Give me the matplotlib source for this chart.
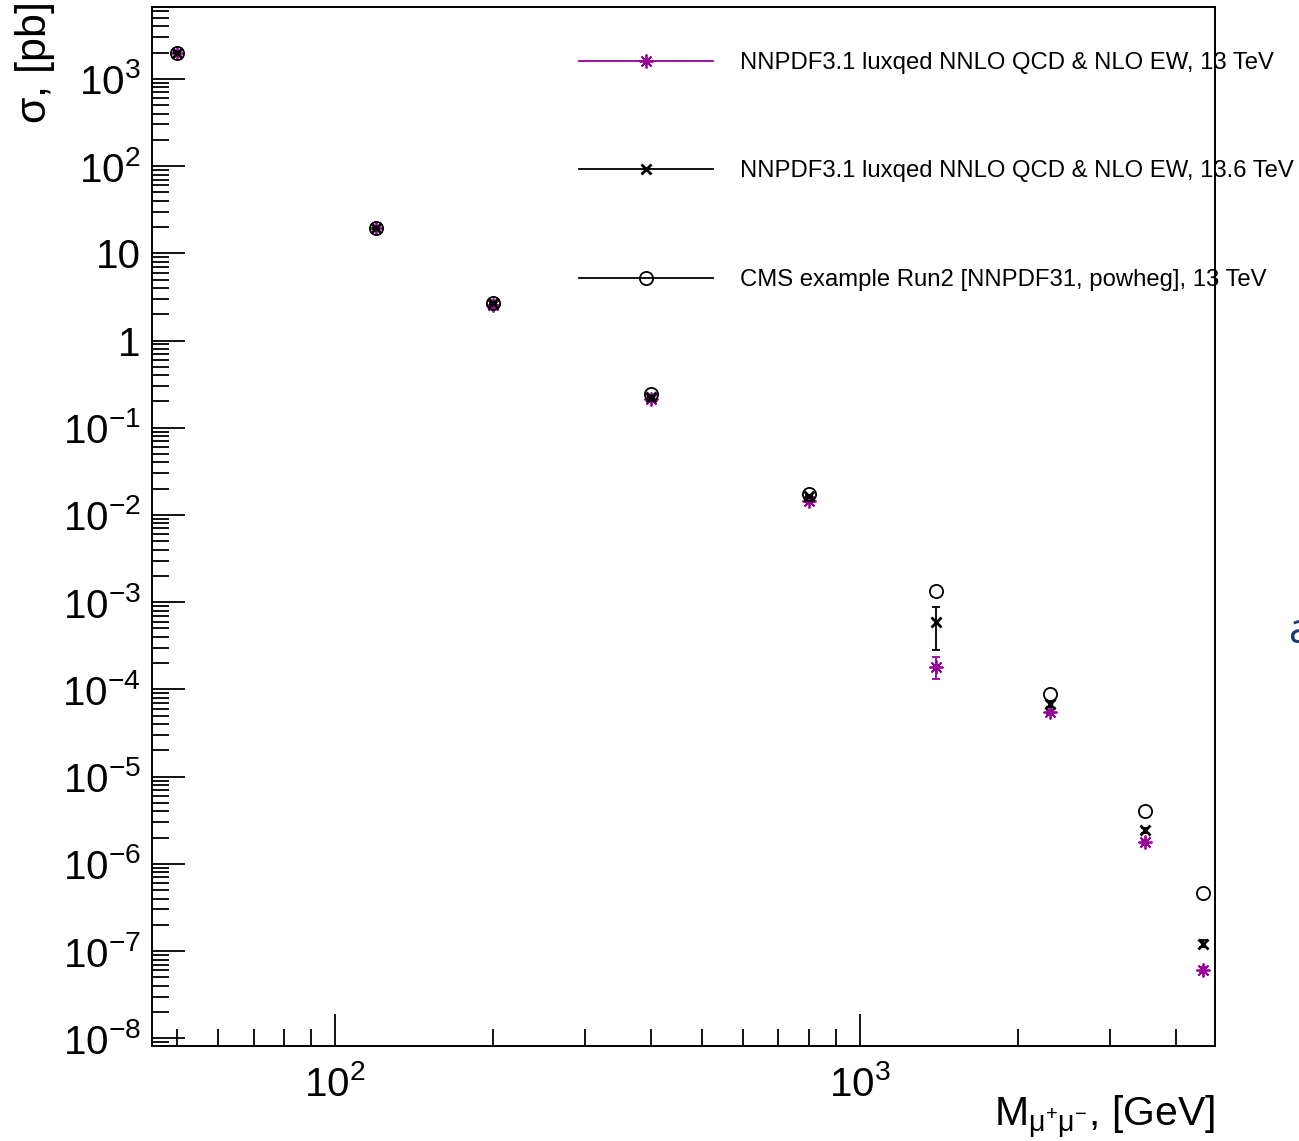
import matplotlib
matplotlib.use('Agg')
import matplotlib.pyplot as plt
import numpy as np
from matplotlib.ticker import LogLocator, NullFormatter, FuncFormatter
from matplotlib.lines import Line2D

plt.rcParams['font.family'] = ['Liberation Sans', 'DejaVu Sans']
plt.rcParams['mathtext.fontset'] = 'custom'
plt.rcParams['mathtext.rm'] = 'Liberation Sans'
plt.rcParams['mathtext.it'] = 'Liberation Sans'
plt.rcParams['mathtext.default'] = 'regular'

# dimuon mass points, GeV
mass = [50, 120, 200, 400, 800, 1400, 2300, 3500, 4500]

# cross sections, pb
xs_13 = [2000, 19.3, 2.55, 0.213, 0.0146, 1.83e-4, 5.5e-5, 1.78e-6, 6.15e-8]
err_13 = [30, 0.3, 0.04, 0.004, 0.0004, 0.5e-4, 0.3e-5, 0.12e-6, 0.5e-8]
xs_136 = [2000, 19.5, 2.68, 0.228, 0.0166, 5.85e-4, 6.86e-5, 2.42e-6, 1.22e-7]
err_136 = [30, 0.3, 0.04, 0.004, 0.0004, 3.0e-4, 0.5e-5, 0.15e-6, 1.2e-8]
xs_cms = [2000, 19.7, 2.72, 0.243, 0.0174, 1.36e-3, 8.9e-5, 4.04e-6, 4.58e-7]

labels = ['NNPDF3.1 luxqed NNLO QCD & NLO EW, 13 TeV',
          'NNPDF3.1 luxqed NNLO QCD & NLO EW, 13.6 TeV',
          'CMS example Run2 [NNPDF31, powheg], 13 TeV']

purple = '#990099'

fig = plt.figure(figsize=(12.99, 11.41), dpi=100)
ax = fig.add_axes([151.8 / 1299, 1 - 1046 / 1141, (1215 - 151.8) / 1299, (1046 - 7.3) / 1141])

ax.errorbar(mass, xs_13, yerr=err_13, fmt='none', ecolor=purple, elinewidth=1.3, capsize=3, capthick=1.3)
ax.plot(mass, xs_13, ls='none', marker=(8, 2, 0), ms=10, mew=1.3, color=purple)
ax.errorbar(mass, xs_136, yerr=err_136, fmt='none', ecolor='black', elinewidth=1.3, capsize=3, capthick=1.3)
ax.plot(mass, xs_136, ls='none', marker='x', ms=7, mew=2, color='black')
ax.plot(mass, xs_cms, ls='none', marker='o', ms=9.5, mew=1.3, mfc='none', mec='black')

ax.set_xscale('log')
ax.set_yscale('log')
ax.set_xlim(44.8, 4750)
ax.set_ylim(10 ** -8.088, 10 ** 3.82)


def log_label(v, pos):
    e = int(round(np.log10(v)))
    if e == 0:
        return '1'
    if e == 1:
        return '10'
    return r'$10^{%d}$' % e


for axis in (ax.xaxis, ax.yaxis):
    axis.set_major_locator(LogLocator(base=10, numticks=100))
    axis.set_minor_locator(LogLocator(base=10, subs=np.arange(2, 10), numticks=100))
    axis.set_major_formatter(FuncFormatter(log_label))
    axis.set_minor_formatter(NullFormatter())

ax.tick_params(which='both', direction='in', top=False, right=False, width=1.3, labelsize=29)
ax.tick_params(axis='y', which='major', length=24, pad=8)
ax.tick_params(axis='y', which='minor', length=12)
ax.tick_params(axis='x', which='major', length=23, pad=14)
ax.tick_params(axis='x', which='minor', length=12)
for s in ax.spines.values():
    s.set_linewidth(1.4)

ax.set_xlabel(r'M$_{\mu^{+}\mu^{-}}$, [GeV]', fontsize=29.5, ha='right')
ax.xaxis.set_label_coords(1.0, -0.046)
fig.text(35 / 1299, 1 - 124 / 1141, r'$\sigma$, [pb]', rotation=90, fontsize=31,
         ha='center', va='bottom')

handles = [
    Line2D([], [], color=purple, lw=1.3, marker=(8, 2, 0), ms=10, mew=1.3),
    Line2D([], [], color='black', lw=1.3, marker='x', ms=7, mew=2),
    Line2D([], [], color='black', lw=1.3, marker='o', ms=9.5, mew=1.3, mfc='none'),
]
leg = ax.legend(handles, labels, loc='upper left', bbox_to_anchor=(579 / 1299, 1 - 52 / 1141),
                bbox_transform=fig.transFigure, frameon=False, fontsize=17.2, borderpad=0,
                borderaxespad=0, handlelength=5.6, handletextpad=1.15, labelspacing=3.62)

fig.text(1288 / 1299, 1 - 632 / 1141, 'a', color='#1a3b73', fontsize=30,
         family=['Open Sans', 'DejaVu Sans'], va='center')

fig.savefig('out.png', dpi=100)
